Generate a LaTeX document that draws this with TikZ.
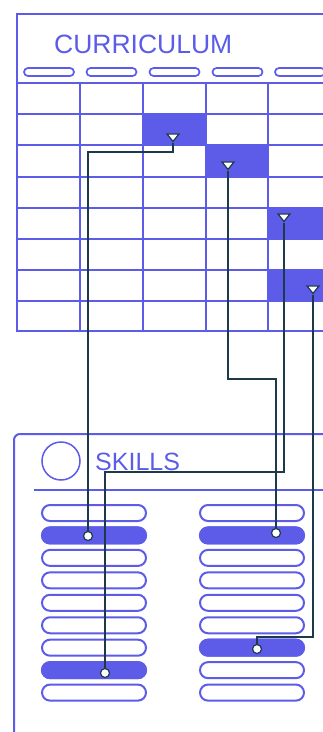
\documentclass[tikz,border=0pt]{standalone}
\usepackage{fontspec}
\setmainfont{Liberation Sans}
\usetikzlibrary{shapes.geometric}
\definecolor{brand}{RGB}{92,92,232}
\definecolor{ink}{RGB}{30,58,74}
\pgfdeclarelayer{bg}
\pgfdeclarelayer{conn}
\pgfsetlayers{bg,conn,main}
\begin{document}
\begin{tikzpicture}[x=1pt,y=-1pt,
  frame/.style={draw=brand,line width=2pt},
  hpill/.style={draw=brand,fill=white,line width=1.7pt,rounded corners=4pt,minimum width=50pt,minimum height=8pt,inner sep=0pt},
  spill/.style={draw=brand,fill=white,line width=2pt,rounded corners=8pt,minimum width=104pt,minimum height=16pt,inner sep=0pt},
  spillon/.style={spill,fill=brand},
  cell/.style={fill=brand},
  tri/.style={isosceles triangle,isosceles triangle stretches,shape border rotate=270,minimum width=12pt,minimum height=7.5pt,inner sep=0pt,draw=ink,fill=white,line width=1.2pt},
  dot/.style={circle,draw=ink,fill=white,line width=1.2pt,minimum size=9pt,inner sep=0pt},
  wire/.style={draw=ink,line width=2.4pt},
  title/.style={text=brand,font=\fontsize{26.5}{30}\selectfont,inner sep=0pt,anchor=base west}]
\useasboundingbox (0,0) rectangle (322,732);
\clip (0,0) rectangle (322,732);
\begin{pgfonlayer}{bg}
  % curriculum panel
  \fill[cell] (143,114) rectangle (206,145);
  \fill[cell] (206,145) rectangle (268,177);
  \fill[cell] (268,208) rectangle (340,239);
  \fill[cell] (268,270) rectangle (340,301);
  \draw[frame] (17,14) rectangle (345,331);
  \draw[frame] (17,83) -- (345,83);
  \foreach \y in {114,145,177,208,239,270,301} \draw[frame] (17,\y) -- (345,\y);
  \foreach \x in {80,143,206,268,331} \draw[frame] (\x,83) -- (\x,331);
  \node[hpill] (h1) at (49,72) {};
  \node[hpill] (h2) at (111.5,72) {};
  \node[hpill] (h3) at (174.5,72) {};
  \node[hpill] (h4) at (237.5,72) {};
  \node[hpill] (h5) at (300,72) {};
  % skills panel
  \draw[frame,rounded corners=6pt] (14,434) rectangle (345,760);
  \draw[frame] (34,490) -- (345,490);
  \foreach \i in {1,...,9} {
    \pgfmathsetmacro{\yy}{513+22.45*(\i-1)}
    \node[spill] (L\i) at (94,\yy) {};
    \node[spill] (R\i) at (252,\yy) {};
  }
  \node[spillon] (L2f) at (L2) {};
  \node[spillon] (L8f) at (L8) {};
  \node[spillon] (R2f) at (R2) {};
  \node[spillon] (R7f) at (R7) {};
\end{pgfonlayer}
\node[title] (cur) at (54,53) {CURRICULUM};
\node[circle,draw=brand,line width=1.5pt,minimum size=38pt,inner sep=0pt] (ring) at (61,461) {};
\node[title,font=\fontsize{25}{30}\selectfont] (sk) at (95,470) {SKILLS};
% markers
\node[tri,anchor=apex] (t1) at (173,143) {};
\node[tri,anchor=apex] (t2) at (228,171) {};
\node[tri,anchor=apex] (t3) at (284,223) {};
\node[tri,anchor=apex] (t4) at (313,295) {};
\node[dot] (c1) at (88,536) {};
\node[dot] (c2) at (276,533) {};
\node[dot] (c3) at (105,673) {};
\node[dot] (c4) at (257,649) {};
\begin{pgfonlayer}{conn}
  \draw[wire] (t1.apex) -- ++(0,9) -| (c1.center);
  \draw[wire] (t2.apex) -- ++(0,208) -| (c2.center);
  \draw[wire] (t3.apex) -- ++(0,249) -| (c3.center);
  \draw[wire] (t4.apex) -- ++(0,342) -| (c4.center);
\end{pgfonlayer}
\end{tikzpicture}
\end{document}
